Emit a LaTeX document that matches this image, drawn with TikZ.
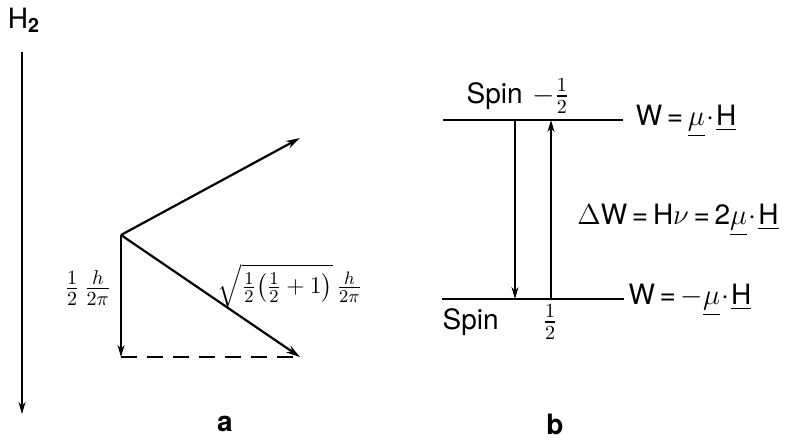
\documentclass[tikz,border=0pt]{standalone}
\usepackage{amsmath}
\usepackage{fontspec}
\setmainfont{TeX Gyre Heros}
\usepackage{tikz}
\usetikzlibrary{positioning, arrows.meta, calc}

\tikzset{
  vec/.style={-{Stealth[length=7pt,width=4pt]}, line width=1.1pt},
  thinvec/.style={-{Stealth[length=6pt,width=3.5pt]}, line width=0.7pt},
  level/.style={line width=0.9pt},
  lbl/.style={font=\fontsize{14}{16}\selectfont, inner sep=1pt}
}
\newcommand{\mudotH}{\underline{\mu}\!\cdot\!\underline{\mathrm{H}}}

\begin{document}
\begin{tikzpicture}[x=0.5pt, y=-0.5pt]
  \useasboundingbox (0,0) rectangle (785,440);

  % Field axis
  \node[lbl] (hlab) at (24,20) {H$_{\mathbf{2}}$};
  \coordinate (axtop) at (22,52);
  \coordinate (axbot) at (22,414);
  \draw[thinvec] (axtop) -- (axbot);

  % Spin vector and its projection
  \coordinate (O) at (121,235);
  \coordinate (up) at (300,138);
  \coordinate (dn) at (300,357);
  \coordinate (pr) at (121,357);
  \draw[vec] (O) -- (up);
  \draw[vec] (O) -- (dn);
  \draw[thinvec] (O) -- (pr);
  \draw[dashed, line width=0.8pt, dash pattern=on 8pt off 5pt] (pr) -- (dn);
  \node[lbl] (projlab) at (88,288) {$\frac{1}{2}\,\frac{h}{2\pi}$};
  \node[lbl, font=\fontsize{13}{15}\selectfont] (lenlab) at (290,286) {$\sqrt{\frac{1}{2}\bigl(\frac{1}{2}+1\bigr)}\,\frac{h}{2\pi}$};
  \node[lbl, font=\fontsize{14}{16}\selectfont\bfseries] (capa) at (225,424) {a};

  % Energy levels
  \coordinate (t1) at (443,120);
  \coordinate (t2) at (623,120);
  \coordinate (b1) at (442,299);
  \coordinate (b2) at (624,299);
  \draw[level] (t1) -- (t2);
  \draw[level] (b1) -- (b2);
  \node[lbl] (spinup) at (518,96) {Spin\,\,$-\frac{1}{2}$};
  \node[lbl] (spindn) at (500,322) {Spin\hspace{22pt}$\frac{1}{2}$};

  % Transitions
  \draw[thinvec] (t1 -| 515,0) -- (b1 -| 515,0);
  \draw[thinvec] (b1 -| 551,0) -- (t1 -| 551,0);

  % Energies
  \node[lbl] (wtop) at (686,121) {W\,=\,$\mudotH$};
  \node[lbl] (dw) at (678,220) {$\Delta$W\,=\,H$\nu$\,=\,2$\mudotH$};
  \node[lbl] (wbot) at (690,300) {W\,=\,$-\mudotH$};
  \node[lbl, font=\fontsize{14}{16}\selectfont\bfseries] (capb) at (555,424) {b};
\end{tikzpicture}
\end{document}
